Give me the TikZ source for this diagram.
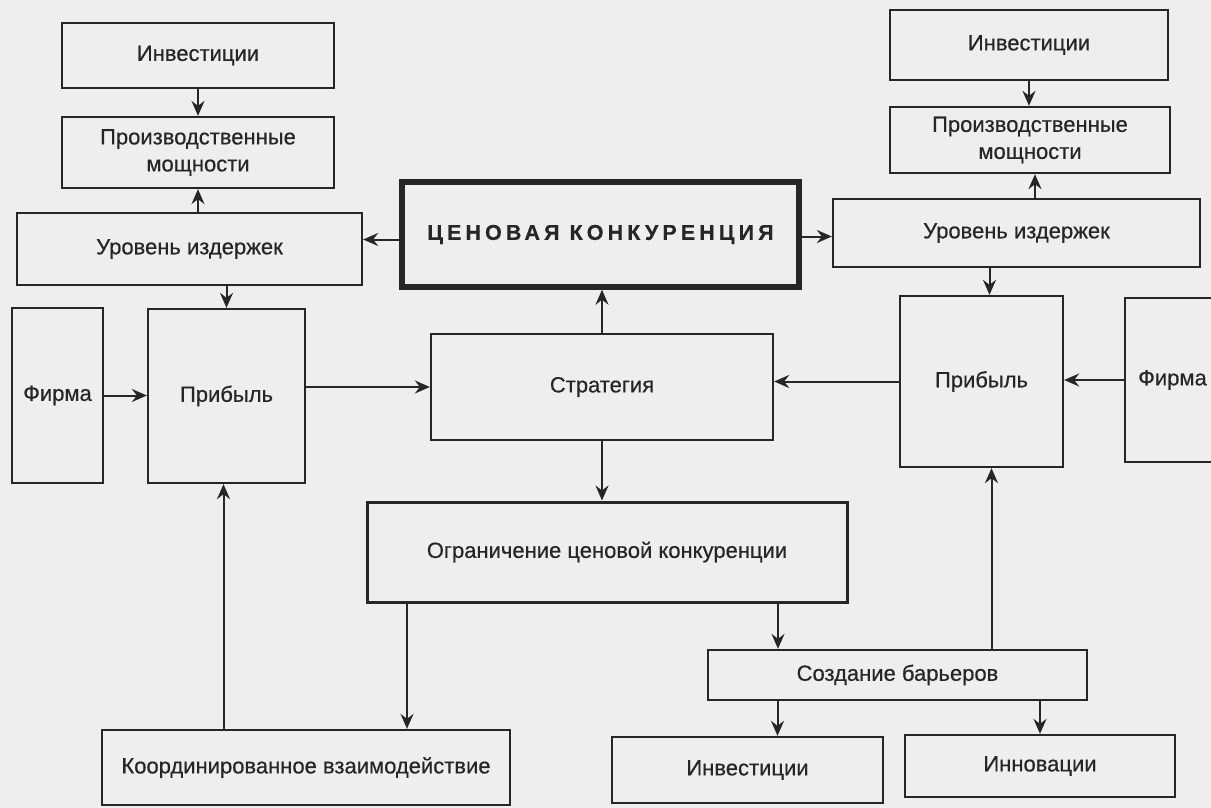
\documentclass[tikz,border=0pt]{standalone}
\usepackage{fontspec}
\setmainfont{Liberation Sans}[FakeBold=0.5]
\usetikzlibrary{arrows.meta}
\definecolor{ink}{HTML}{262626}
\definecolor{paper}{HTML}{EFEEEC}
\begin{document}
\begin{tikzpicture}[x=1pt,y=-1pt,
  box/.style={draw=ink, line width=2.3pt, inner sep=0pt, align=center, text=ink,
    font=\fontsize{22}{27}\selectfont},
  arr/.style={draw=ink, line width=2pt, -{Stealth[length=15pt,width=13pt,inset=5pt]}},
  ln/.style={draw=ink, line width=2pt}]
\fill[paper] (0,0) rectangle (1211,808);
\useasboundingbox (0,0) rectangle (1211,808);
\clip (0,0) rectangle (1211,808);

% left side
\node[box, minimum width=272pt, minimum height=65pt] (invL) at (198,55.5) {Инвестиции};
\node[box, minimum width=272pt, minimum height=71pt] (prodL) at (198,152.5) {Производственные\\мощности};
\node[box, minimum width=345pt, minimum height=72pt] (costL) at (189.5,249) {Уровень издержек};
\node[box, minimum width=91pt, minimum height=175pt] (firmL) at (57.5,395.5) {Фирма};
\node[box, minimum width=157pt, minimum height=174pt] (profL) at (226.5,396) {Прибыль};

% centre
\node[box, line width=5.5pt, minimum width=397pt, minimum height=105pt,
  font=\fontsize{21.5}{25}\selectfont\bfseries\addfontfeature{LetterSpace=19}] (price) at (600.5,234.5) {ЦЕНОВАЯ КОНКУРЕНЦИЯ};
\node[box, minimum width=342pt, minimum height=106pt] (strat) at (602,387) {Стратегия};
\node[box, line width=3pt, minimum width=480pt, minimum height=100pt] (limit) at (607,552) {Ограничение ценовой конкуренции};

% right side
\node[box, minimum width=278pt, minimum height=70pt] (invR) at (1029,45) {Инвестиции};
\node[box, minimum width=280pt, minimum height=66pt] (prodR) at (1030,140) {Производственные\\мощности};
\node[box, minimum width=367pt, minimum height=68pt] (costR) at (1016.5,233) {Уровень издержек};
\node[box, minimum width=163pt, minimum height=171pt] (profR) at (981.5,381.5) {Прибыль};
\node[box, minimum width=95pt, minimum height=164pt] (firmR) at (1172.5,380) {Фирма};

% bottom
\node[box, minimum width=379pt, minimum height=50pt] (barr) at (897.5,675) {Создание барьеров};
\node[box, minimum width=271pt, minimum height=66pt] (invB) at (747.5,770) {Инвестиции};
\node[box, minimum width=270pt, minimum height=62pt] (innov) at (1040,766) {Инновации};
\node[box, minimum width=408pt, minimum height=75pt] (coord) at (306,767.5) {Координированное взаимодействие};

% connectors left
\draw[arr] (invL.south) -- (prodL.north);
\draw[arr] (prodL.south |- costL.north) -- (prodL.south);
\draw[arr] ([yshift=-5pt]price.west) -- ([yshift=-5pt]price.west -| costL.east);
\draw[arr] (profL.north |- costL.south) -- (profL.north);
\draw[arr] (firmL.east) -- (firmL.east -| profL.west);
\draw[arr] (profL.east |- strat.west) -- (strat.west);
\draw[arr] ([xshift=-3pt]profL.south |- coord.north) -- ([xshift=-3pt]profL.south);

% connectors centre
\draw[arr] (strat.north) -- (strat.north |- price.south);
\draw[arr] (strat.south) -- (strat.south |- limit.north);
\draw[arr] ([xshift=-200pt]limit.south) -- ([xshift=-200pt]limit.south |- coord.north);
\draw[arr] ([xshift=171pt]limit.south) -- ([xshift=171pt]limit.south |- barr.north);

% connectors right
\draw[arr] ([yshift=-2pt]price.east) -- ([yshift=-2pt]price.east -| costR.west);
\draw[arr] (invR.south) -- (invR.south |- prodR.north);
\draw[arr] ([xshift=5pt]prodR.south |- costR.north) -- ([xshift=5pt]prodR.south);
\draw[arr] ([xshift=8pt]profR.north |- costR.south) -- ([xshift=8pt]profR.north);
\draw[arr] (profR.west) -- (profR.west -| strat.east);
\draw[arr] (firmR.west) -- (firmR.west -| profR.east);
\draw[arr] ([xshift=10pt]profR.south |- barr.north) -- ([xshift=10pt]profR.south);
\draw[arr] ([xshift=30pt]invB.north |- barr.south) -- ([xshift=30pt]invB.north);
\draw[arr] (innov.north |- barr.south) -- (innov.north);
\end{tikzpicture}
\end{document}
